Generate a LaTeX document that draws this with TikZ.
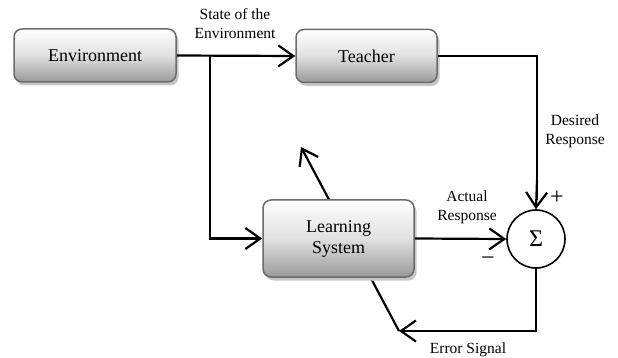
\documentclass[tikz,border=0pt]{standalone}
\usepackage{fontspec}
\setmainfont{Liberation Serif}
\usetikzlibrary{arrows.meta,shadows}
\begin{document}
\begin{tikzpicture}[x=1pt,y=-1pt,
  blk/.style={rectangle, rounded corners=8pt, draw=black!58, line width=1.5pt,
    top color=white, bottom color=black!40, middle color=black!12, minimum height=53pt,
    font=\fontsize{18}{21}\selectfont, align=center,
    drop shadow={shadow xshift=2.5pt, shadow yshift=-3.5pt, fill=black!22, opacity=1}},
  lbl/.style={font=\fontsize{15.5}{19}\selectfont, align=center, inner sep=0pt},
  sgn/.style={font=\fontsize{24}{26}\selectfont, inner sep=0pt},
  con/.style={line width=2.2pt, -{Straight Barb[length=15pt,width=21pt,line width=2.2pt]}},
  thin/.style={line width=1.6pt}
]
\useasboundingbox (0,0) rectangle (618,358);
% adjustment arrow through the learning system (drawn first, behind the box)
\coordinate (errtip) at (399,331);
\coordinate (adj) at (301,147);
\draw[con] (errtip) -- (adj);

\node[blk, minimum width=162pt] (env) at (95,55.5) {Environment};
\node[blk, minimum width=141pt] (teach) at (366.5,56) {Teacher};
\node[blk, minimum width=151pt, minimum height=77pt] (learn) at (338.5,238.5) {Learning\\System};
\node[circle, draw, line width=1.6pt, minimum size=58pt, inner sep=0pt, font=\fontsize{24}{26}\selectfont] (sum) at (536,239) {Σ};

\coordinate (br) at (210,55.5);
\draw[con] (env.east) -- (teach.west);
\draw[con] (br) |- (learn.west);
\draw[thin] (teach.east) -| (537,200);
\draw[con] (537,180) -- (sum.north);
\draw[con] (learn.east) -- (sum.west);
\draw[con] (sum.south) |- (errtip);

\node[lbl] (lstate) at (235,24) {State of the\\Environment};
\node[lbl] (ldes) at (575,131) {Desired\\Response};
\node[lbl] (lact) at (467,207) {Actual\\Response};
\node[lbl] (lerr) at (468,350) {Error Signal};
\node[sgn] (plus) at (557,198) {+};
\node[sgn] (minus) at (488,261) {−};
\end{tikzpicture}
\end{document}
